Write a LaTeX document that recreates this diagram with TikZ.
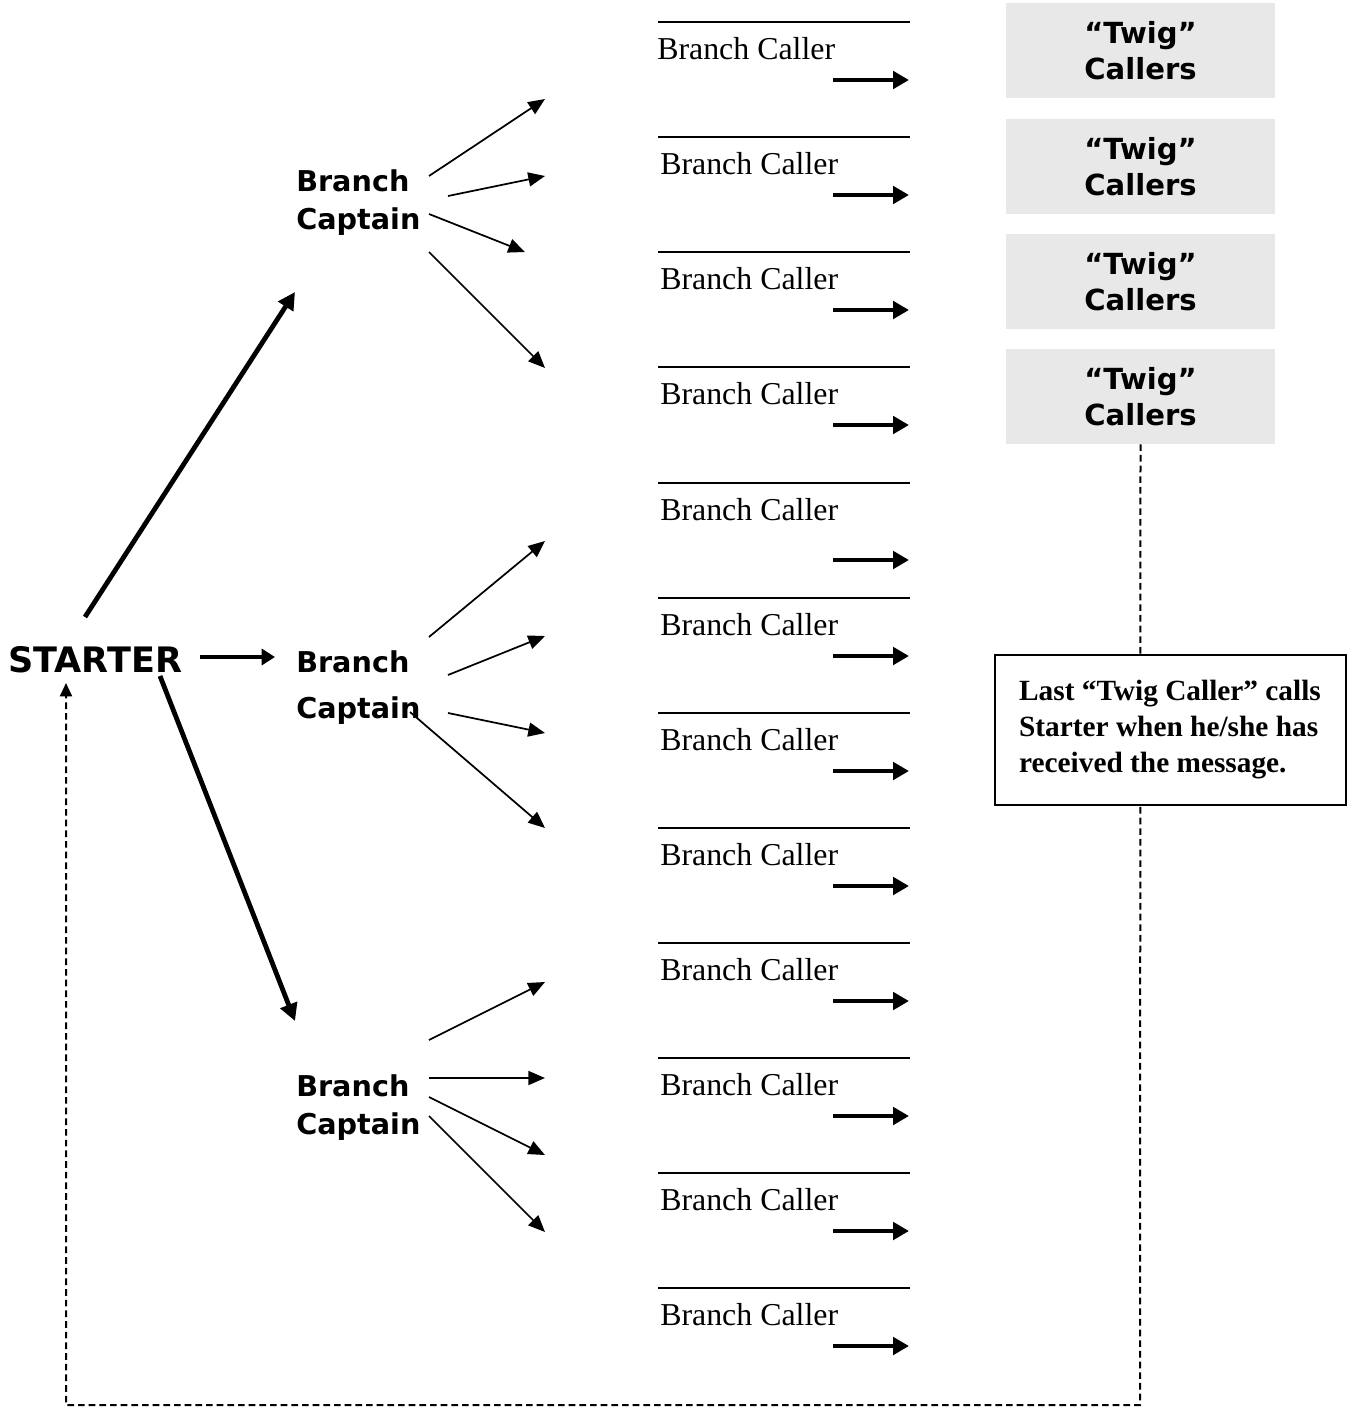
\documentclass[tikz,border=0pt]{standalone}
\usepackage{fontspec}
\setmainfont{Liberation Serif}
\newfontfamily\dvs{DejaVu Sans}
\usetikzlibrary{arrows.meta}
\definecolor{twiggray}{HTML}{E8E8E8}
\tikzset{
  capt/.style={anchor=base west,inner sep=0pt,align=left,font=\dvs\bfseries\fontsize{21.5}{28.5}\selectfont},
  callertext/.style={anchor=base west,inner sep=0pt,font=\fontsize{23.9}{28}\selectfont},
  calline/.style={line width=1.1pt},
  thickarr/.style={line width=3.6pt,-{Triangle[length=12pt,width=13pt]}},
  bigarr/.style={line width=3.6pt,-{Triangle[length=13pt,width=13pt]}},
  thinarr/.style={line width=1.3pt,-{Triangle[length=12.5pt,width=10.5pt]}},
  twig/.style={fill=twiggray,minimum width=269*0.75pt,minimum height=95*0.75pt,inner sep=0pt,align=center,font=\dvs\bfseries\fontsize{21.8}{27}\selectfont},
  notebox/.style={draw,line width=1.5pt,fill=white,minimum width=351*0.75pt,minimum height=150*0.75pt,align=left,inner sep=0pt,font=\bfseries\fontsize{22}{27}\selectfont},
  retline/.style={line width=1.5pt,dash pattern=on 5pt off 3pt,-{Triangle[length=10pt,width=9pt]}}
}
\begin{document}
\begin{tikzpicture}[x=0.75pt,y=-0.75pt]
\useasboundingbox (0,0) rectangle (1354,1410);
% branch callers
\foreach \i/\y/\xx/\ay in {1/22/657/58,2/137/660/58,3/252/660/58,4/367/660/58,5/483/660/77,6/598/660/58,7/713/660/58,8/828/660/58,9/943/660/58,10/1058/660/58,11/1173/660/58,12/1288/660/58}{
  \coordinate (la\i) at (658,\y);
  \coordinate (lb\i) at (910,\y);
  \draw[calline] (la\i) -- (lb\i);
  \node[callertext] (bc\i) at (\xx,\y+37) {Branch Caller};
  \coordinate (aa\i) at (833,\y+\ay);
  \coordinate (ab\i) at (909,\y+\ay);
  \draw[thickarr] (aa\i) -- (ab\i);
}
% twig boxes
\node[twig] (twig1) at (1140.5,50.5) {“Twig”\\Callers};
\node[twig] (twig2) at (1140.5,166.5) {“Twig”\\Callers};
\node[twig] (twig3) at (1140.5,281.5) {“Twig”\\Callers};
\node[twig] (twig4) at (1140.5,396.5) {“Twig”\\Callers};
% return path
\coordinate (rc1) at (1140,1405);
\coordinate (rc2) at (66,1405);
\coordinate (rin) at (66,683);
\draw[retline] (twig4.south) -- (rc1) -- (rc2) -- (rin);
\node[notebox] (note) at (1170,730) {Last “Twig Caller” calls\\Starter when he/she has\\received the message.};
% starter and captains
\node[anchor=base west,inner sep=0pt,font=\dvs\bfseries\fontsize{26.3}{30}\selectfont] (starter) at (8,672) {STARTER};
\node[capt] (cap1) at (296,229) {Branch\\Captain};
\node[capt,font=\dvs\bfseries\fontsize{21.5}{34.5}\selectfont] (cap2) at (296,718) {Branch\\Captain};
\node[capt] (cap3) at (296,1134) {Branch\\Captain};
% starter arrows
\coordinate (s1a) at (85,617);
\coordinate (s1b) at (295,292);
\coordinate (s2a) at (200,657);
\coordinate (s2b) at (275,657);
\coordinate (s3a) at (160,676);
\coordinate (s3b) at (295,1021);
\draw[bigarr] (s1a) -- (s1b);
\draw[line width=3pt,-{Triangle[length=10pt,width=12pt]}] (s2a) -- (s2b);
\draw[bigarr] (s3a) -- (s3b);
% captain 1 arrows
\foreach \n/\xa/\ya/\xb/\yb in {a/429/176/545/99, b/448/196/545/176, c/429/214/525/252, d/429/252/545/368}{
  \coordinate (c1\n s) at (\xa,\ya);
  \coordinate (c1\n e) at (\xb,\yb);
  \draw[thinarr] (c1\n s) -- (c1\n e);
}
% captain 2 arrows
\foreach \n/\xa/\ya/\xb/\yb in {a/429/637/545/541, b/448/675/545/636, c/448/713/545/733, d/410/712/545/828}{
  \coordinate (c2\n s) at (\xa,\ya);
  \coordinate (c2\n e) at (\xb,\yb);
  \draw[thinarr] (c2\n s) -- (c2\n e);
}
% captain 3 arrows
\foreach \n/\xa/\ya/\xb/\yb in {a/429/1040/545/982, b/429/1078/545/1078, c/429/1097/545/1155, d/429/1116/545/1232}{
  \coordinate (c3\n s) at (\xa,\ya);
  \coordinate (c3\n e) at (\xb,\yb);
  \draw[thinarr] (c3\n s) -- (c3\n e);
}
\end{tikzpicture}
\end{document}
